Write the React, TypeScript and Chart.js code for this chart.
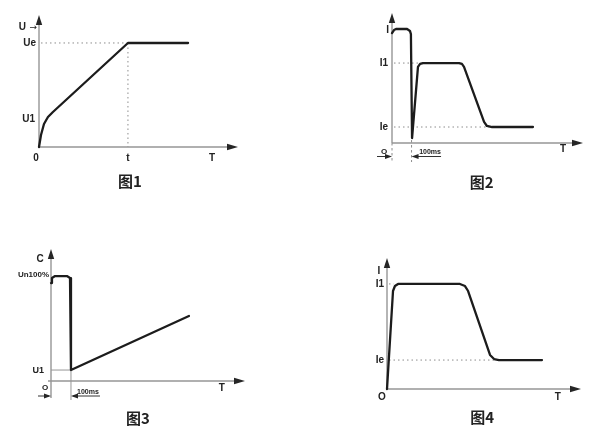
import React, { useEffect, useRef } from "react";
import { Chart, registerables } from "chart.js";

Chart.register(...registerables);

// ---- Figure 1: voltage ramp up to Ue ----
const fig1Time = [0, 1.0, 2.5, 4.5, 7.0, 44.7, 74.9];
const fig1Voltage = [0, 9.1, 17.4, 22.7, 26.5, 78.8, 78.8];
const fig1U1 = 20.8;
const fig1Ue = 78.8;
const fig1RampEnd = 44.7;

// ---- Figure 2: current, start pulse then I1 and Ie ----
const fig2Time = [0, 1.05, 2.1, 7.9, 9.4, 9.9, 10.5, 13.6, 14.7, 16.2, 35.1, 36.6, 37.7, 48.2, 49.7, 52.4, 73.8];
const fig2Current = [84.6, 86.9, 87.7, 87.7, 86.2, 83.8, 3.8, 58.5, 60.8, 61.5, 61.5, 60.8, 58.5, 16.2, 13.1, 12.3, 12.3];
const fig2I = 87.7;
const fig2I1 = 61.5;
const fig2Ie = 12.3;
const fig2Switch = 10.5;

// ---- Figure 3: capacitor voltage, drop to U1 then recharge ----
const fig3Time = [0, 0.5, 2.1, 8.2, 9.8, 10.3, 10.3, 71.1];
const fig3Voltage = [74.2, 78.0, 79.5, 79.5, 78.0, 75.0, 8.3, 49.2];
const fig3Un100 = 79.5;
const fig3U1 = 8.3;
const fig3Switch = 10.3;

// ---- Figure 4: current rises to I1 then falls to Ie ----
const fig4Time = [0, 3.1, 4.1, 5.7, 37.6, 40.2, 41.8, 53.1, 55.2, 57.7, 79.9];
const fig4Current = [0, 74.8, 78.6, 80.2, 80.2, 78.6, 74.8, 26.0, 22.9, 22.1, 22.1];
const fig4I1 = 80.2;
const fig4Ie = 22.1;

const AXIS = "#969696";
const INK = "#1c1c1c";
const LABEL = "bold 10px 'Liberation Sans', Arial, sans-serif";
const SMALL = "bold 7px 'Liberation Sans', Arial, sans-serif";
const TITLE = "bold 15px 'Noto Sans CJK SC', sans-serif";

type Ctx = CanvasRenderingContext2D;

function line(ctx: Ctx, x1: number, y1: number, x2: number, y2: number, color = AXIS, w = 1.4, dash: number[] = []) {
  ctx.save();
  ctx.strokeStyle = color;
  ctx.lineWidth = w;
  ctx.setLineDash(dash);
  ctx.beginPath();
  ctx.moveTo(x1, y1);
  ctx.lineTo(x2, y2);
  ctx.stroke();
  ctx.restore();
}

function dotted(ctx: Ctx, x1: number, y1: number, x2: number, y2: number) {
  line(ctx, x1, y1, x2, y2, "#8c8c8c", 1, [1.5, 3]);
}

function head(ctx: Ctx, x: number, y: number, dir: "up" | "right" | "left", len = 10, half = 3.2) {
  ctx.save();
  ctx.fillStyle = "#262626";
  ctx.beginPath();
  ctx.moveTo(x, y);
  if (dir === "up") {
    ctx.lineTo(x - half, y + len);
    ctx.lineTo(x + half, y + len);
  } else if (dir === "right") {
    ctx.lineTo(x - len, y - half);
    ctx.lineTo(x - len, y + half);
  } else {
    ctx.lineTo(x + len, y - half);
    ctx.lineTo(x + len, y + half);
  }
  ctx.closePath();
  ctx.fill();
  ctx.restore();
}

function text(ctx: Ctx, s: string, x: number, y: number, align: CanvasTextAlign = "center", font = LABEL) {
  ctx.save();
  ctx.fillStyle = "#222";
  ctx.font = font;
  ctx.textAlign = align;
  ctx.textBaseline = "middle";
  ctx.fillText(s, x, y);
  ctx.restore();
}

type Decor = (ctx: Ctx, X: (v: number) => number, Y: (v: number) => number) => void;

function axes(ctx: Ctx, X: (v: number) => number, Y: (v: number) => number, yBottomExtra = 0, xStartExtra = 0) {
  line(ctx, X(0), Y(0) + yBottomExtra, X(0), Y(100) + 4);
  line(ctx, X(0) - xStartExtra, Y(0), X(100) - 4, Y(0));
  head(ctx, X(0), Y(100), "up");
  head(ctx, X(100), Y(0), "right", 11, 3.2);
}

const decorFig1: Decor = (ctx, X, Y) => {
  axes(ctx, X, Y);
  dotted(ctx, X(0) + 2, Y(fig1Ue), X(fig1RampEnd), Y(fig1Ue));
  dotted(ctx, X(fig1RampEnd), Y(fig1Ue), X(fig1RampEnd), Y(0));
  text(ctx, "U", X(0) - 13, Y(90.4), "right");
  text(ctx, "\u2192", X(0) - 2, Y(90.4), "right", "9px 'DejaVu Sans', sans-serif");
  text(ctx, "Ue", X(0) - 3, Y(fig1Ue), "right");
  text(ctx, "U1", X(0) - 4, Y(fig1U1), "right");
  text(ctx, "0", X(0) - 3, Y(0) + 11);
  text(ctx, "t", X(fig1RampEnd), Y(0) + 11);
  text(ctx, "T", X(86.9), Y(0) + 11);
  text(ctx, "图1", X(45.7), Y(0) + 34, "center", TITLE);
};

const decorFig2: Decor = (ctx, X, Y) => {
  axes(ctx, X, Y);
  dotted(ctx, X(0) + 2, Y(fig2I1), X(13.8), Y(fig2I1));
  dotted(ctx, X(0) + 2, Y(fig2Ie), X(51), Y(fig2Ie));
  line(ctx, X(0), Y(0), X(0), Y(0) + 19, "#8c8c8c", 1, [2.5, 2.5]);
  line(ctx, X(fig2Switch) - 0.5, Y(3.8) + 2, X(fig2Switch) - 0.5, Y(0) + 19, "#8c8c8c", 1, [2.5, 2.5]);
  text(ctx, "I", X(0) - 3, Y(fig2I) + 1, "right");
  text(ctx, "I1", X(0) - 4, Y(fig2I1), "right");
  text(ctx, "Ie", X(0) - 4, Y(fig2Ie), "right");
  text(ctx, "O", X(0) - 8, Y(0) + 8.5, "center", "bold 8px 'Liberation Sans', Arial, sans-serif");
  line(ctx, X(0) - 15, Y(0) + 13.5, X(0) - 2, Y(0) + 13.5, "#333", 1);
  head(ctx, X(0), Y(0) + 13.5, "right", 7, 2.5);
  line(ctx, X(fig2Switch) + 2, Y(0) + 13.5, X(fig2Switch) + 29, Y(0) + 13.5, "#333", 1);
  head(ctx, X(fig2Switch) - 0.5, Y(0) + 13.5, "left", 7, 2.5);
  text(ctx, "100ms", X(fig2Switch) + 18, Y(0) + 9, "center", SMALL);
  text(ctx, "T", X(89.5), Y(0) + 6);
  text(ctx, "图2", X(47), Y(0) + 39, "center", TITLE);
};

const decorFig3: Decor = (ctx, X, Y) => {
  axes(ctx, X, Y, 17, 3);
  line(ctx, X(0), Y(fig3U1), X(fig3Switch), Y(fig3U1), AXIS, 1);
  line(ctx, X(fig3Switch), Y(fig3U1), X(fig3Switch), Y(0) + 19, AXIS, 1);
  text(ctx, "C", X(0) - 11, Y(92.4));
  text(ctx, "Un100%", X(0) - 2, Y(fig3Un100) - 1, "right", "bold 8px 'Liberation Sans', Arial, sans-serif");
  text(ctx, "U1", X(0) - 7, Y(fig3U1), "right", "bold 9px 'Liberation Sans', Arial, sans-serif");
  text(ctx, "O", X(0) - 6, Y(0) + 7, "center", "bold 8px 'Liberation Sans', Arial, sans-serif");
  line(ctx, X(0) - 13, Y(0) + 15, X(0) - 2, Y(0) + 15, "#333", 1);
  head(ctx, X(0), Y(0) + 15, "right", 7, 2.5);
  line(ctx, X(fig3Switch) + 2, Y(0) + 15, X(fig3Switch) + 29, Y(0) + 15, "#333", 1);
  head(ctx, X(fig3Switch), Y(0) + 15, "left", 7, 2.5);
  text(ctx, "100ms", X(fig3Switch) + 17, Y(0) + 11, "center", SMALL);
  text(ctx, "T", X(88), Y(0) + 7);
  text(ctx, "图3", X(44.8), Y(0) + 37, "center", TITLE);
};

const decorFig4: Decor = (ctx, X, Y) => {
  axes(ctx, X, Y);
  dotted(ctx, X(0) + 2, Y(fig4I1), X(3.5), Y(fig4I1));
  dotted(ctx, X(0) + 2, Y(fig4Ie), X(56), Y(fig4Ie));
  text(ctx, "I", X(0) - 8, Y(90));
  text(ctx, "I1", X(0) - 3, Y(fig4I1), "right");
  text(ctx, "Ie", X(0) - 3, Y(fig4Ie), "right");
  text(ctx, "O", X(0) - 5, Y(0) + 8);
  text(ctx, "T", X(88), Y(0) + 8);
  text(ctx, "图4", X(49), Y(0) + 28, "center", TITLE);
};

type Panel = {
  box: { left: number; top: number; width: number; height: number };
  area: { left: number; top: number; right: number; bottom: number };
  xs: number[];
  ys: number[];
  decor: Decor;
};

const panels: Panel[] = [
  { box: { left: 0, top: 0, width: 297, height: 214 }, area: { left: 39, top: 15, right: 238, bottom: 147 }, xs: fig1Time, ys: fig1Voltage, decor: decorFig1 },
  { box: { left: 297, top: 0, width: 298, height: 214 }, area: { left: 392, top: 13, right: 583, bottom: 143 }, xs: fig2Time, ys: fig2Current, decor: decorFig2 },
  { box: { left: 0, top: 214, width: 297, height: 215 }, area: { left: 51, top: 249, right: 245, bottom: 381 }, xs: fig3Time, ys: fig3Voltage, decor: decorFig3 },
  { box: { left: 297, top: 214, width: 298, height: 215 }, area: { left: 387, top: 258, right: 581, bottom: 389 }, xs: fig4Time, ys: fig4Current, decor: decorFig4 },
];

function PanelChart({ panel }: { panel: Panel }) {
  const ref = useRef<HTMLCanvasElement | null>(null);
  useEffect(() => {
    if (!ref.current) return;
    const { box, area } = panel;
    const chart = new Chart(ref.current, {
      type: "line",
      data: {
        datasets: [
          {
            data: panel.xs.map((x, i) => ({ x, y: panel.ys[i] })),
            borderColor: INK,
            borderWidth: 2.3,
            pointRadius: 0,
            tension: 0,
            borderJoinStyle: "round",
            borderCapStyle: "round",
            fill: false,
            clip: 8,
          },
        ],
      },
      options: {
        responsive: false,
        animation: false,
        events: [],
        layout: {
          padding: {
            left: area.left - box.left,
            top: area.top - box.top,
            right: box.left + box.width - area.right,
            bottom: box.top + box.height - area.bottom,
          },
        },
        plugins: { legend: { display: false }, tooltip: { enabled: false } },
        scales: {
          x: { type: "linear", min: 0, max: 100, display: false },
          y: { type: "linear", min: 0, max: 100, display: false },
        },
      },
      plugins: [
        {
          id: "figureDecor",
          beforeDatasetsDraw(c: any) {
            const xs = c.scales.x;
            const ys = c.scales.y;
            panel.decor(c.ctx, (v) => xs.getPixelForValue(v), (v) => ys.getPixelForValue(v));
          },
        },
      ],
    } as any);
    return () => chart.destroy();
  }, [panel]);
  return (
    <canvas
      ref={ref}
      width={panel.box.width}
      height={panel.box.height}
      style={{ position: "absolute", left: panel.box.left, top: panel.box.top, width: panel.box.width, height: panel.box.height }}
    />
  );
}

export default function App() {
  return (
    <div style={{ position: "fixed", left: 0, top: 0, width: 595, height: 429, background: "#fff", overflow: "hidden" }}>
      {panels.map((p, i) => (
        <PanelChart key={i} panel={p} />
      ))}
    </div>
  );
}
